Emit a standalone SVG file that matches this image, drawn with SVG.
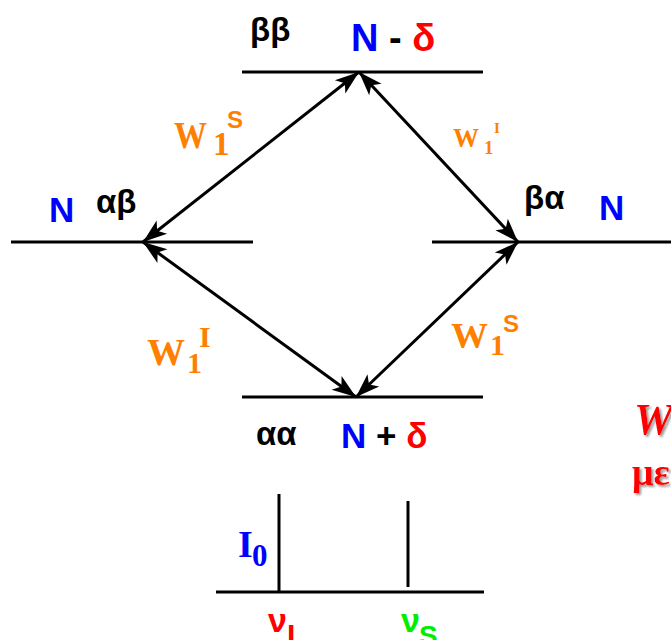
<svg xmlns="http://www.w3.org/2000/svg" width="671" height="640" viewBox="0 0 671 640">
  <style>
    .lvl { stroke: #000; stroke-width: 3; fill: none; }
    .con { stroke: #000; stroke-width: 3; fill: none; marker-start: url(#ah); marker-end: url(#ah); }
    .sans { font-family: "Liberation Sans", Arial, sans-serif; font-weight: bold; }
    .serif { font-family: "Liberation Serif", "Times New Roman", serif; font-weight: bold; }
    .blk { fill: #000; }
    .blue { fill: #0000ff; }
    .red { fill: #ff0000; }
    .grn { fill: #00ee00; }
    .org { fill: #ff8000; }
  </style>
  <defs>
    <marker id="ah" viewBox="-25 -10 27 20" refX="0" refY="0" markerWidth="27" markerHeight="20" markerUnits="userSpaceOnUse" orient="auto-start-reverse">
      <path d="M0,0 L-24,-8.5 L-18,0 L-24,8.5 Z" fill="#000"/>
    </marker>
    <filter id="sh" x="-20%" y="-20%" width="140%" height="140%">
      <feDropShadow dx="2" dy="2" stdDeviation="0.8" flood-color="#999"/>
    </filter>
  </defs>

  <g id="level-bb">
    <line class="lvl" x1="242" y1="72" x2="483" y2="72"/>
    <text class="sans blk" x="250" y="41" font-size="33">ββ</text>
    <text class="sans" x="351" y="51" font-size="38"><tspan class="blue">N</tspan><tspan class="blk"> - </tspan><tspan class="red">δ</tspan></text>
  </g>

  <g id="level-ab">
    <line class="lvl" x1="11" y1="242" x2="253" y2="242"/>
    <text class="sans blue" x="49" y="222" font-size="35">N</text>
    <text class="sans blk" x="96" y="213" font-size="33">αβ</text>
  </g>

  <g id="level-ba">
    <line class="lvl" x1="432" y1="242" x2="671" y2="242"/>
    <text class="sans blk" x="524" y="209" font-size="33">βα</text>
    <text class="sans blue" x="599" y="220" font-size="35">N</text>
  </g>

  <g id="level-aa">
    <line class="lvl" x1="242" y1="397" x2="483" y2="397"/>
    <text class="sans blk" x="256" y="445" font-size="33">αα</text>
    <text class="sans" x="341" y="448" font-size="35"><tspan class="blue">N</tspan><tspan class="blk"> + </tspan><tspan class="red">δ</tspan></text>
  </g>

  <g id="connectors">
    <line class="con" x1="359" y1="72" x2="143" y2="242"/>
    <line class="con" x1="359" y1="72" x2="518" y2="242"/>
    <line class="con" x1="143" y1="242" x2="356" y2="397"/>
    <line class="con" x1="518" y1="242" x2="356" y2="397"/>
  </g>

  <g id="label-w1s-top">
    <text class="serif org" x="174" y="148" font-size="38" textLength="33" lengthAdjust="spacingAndGlyphs">W</text>
    <text class="serif org" x="213" y="155" font-size="33">1</text>
    <text class="sans org" x="227" y="128" font-size="24">S</text>
  </g>
  <g id="label-w1i-top">
    <text class="serif org" x="453" y="147" font-size="28" textLength="26" lengthAdjust="spacingAndGlyphs">W</text>
    <text class="serif org" x="484" y="154" font-size="19">1</text>
    <text class="serif org" x="494" y="133" font-size="15">I</text>
  </g>
  <g id="label-w1i-bottom">
    <text class="serif org" x="147" y="365" font-size="37" textLength="38" lengthAdjust="spacingAndGlyphs">W</text>
    <text class="serif org" x="187" y="373" font-size="30">1</text>
    <text class="serif org" x="199" y="347" font-size="30">I</text>
  </g>
  <g id="label-w1s-bottom">
    <text class="serif org" x="451" y="348" font-size="35" textLength="37" lengthAdjust="spacingAndGlyphs">W</text>
    <text class="serif org" x="490" y="355" font-size="30">1</text>
    <text class="sans org" x="503" y="332" font-size="24">S</text>
  </g>

  <g id="spectrum">
    <line class="lvl" x1="216" y1="592" x2="484" y2="592"/>
    <line class="lvl" x1="279" y1="494" x2="279" y2="592"/>
    <line class="lvl" x1="408" y1="501" x2="408" y2="587"/>
    <text class="serif blue" x="238" y="557" font-size="38">I</text>
    <text class="serif blue" x="252" y="566" font-size="31">0</text>
    <text class="sans red" x="268" y="632" font-size="34">ν</text>
    <text class="sans red" x="287" y="645" font-size="30">I</text>
    <text class="sans grn" x="401" y="632" font-size="34">ν</text>
    <text class="sans grn" x="419" y="645" font-size="28">S</text>
  </g>

  <g id="side-text" filter="url(#sh)">
    <text x="634" y="434" font-family="Liberation Serif, serif" font-style="italic" font-weight="bold" font-size="44" fill="#ff0000">W</text>
    <text x="632" y="485" font-family="Liberation Serif, serif" font-weight="bold" font-size="38" fill="#ff0000">με</text>
  </g>
</svg>
